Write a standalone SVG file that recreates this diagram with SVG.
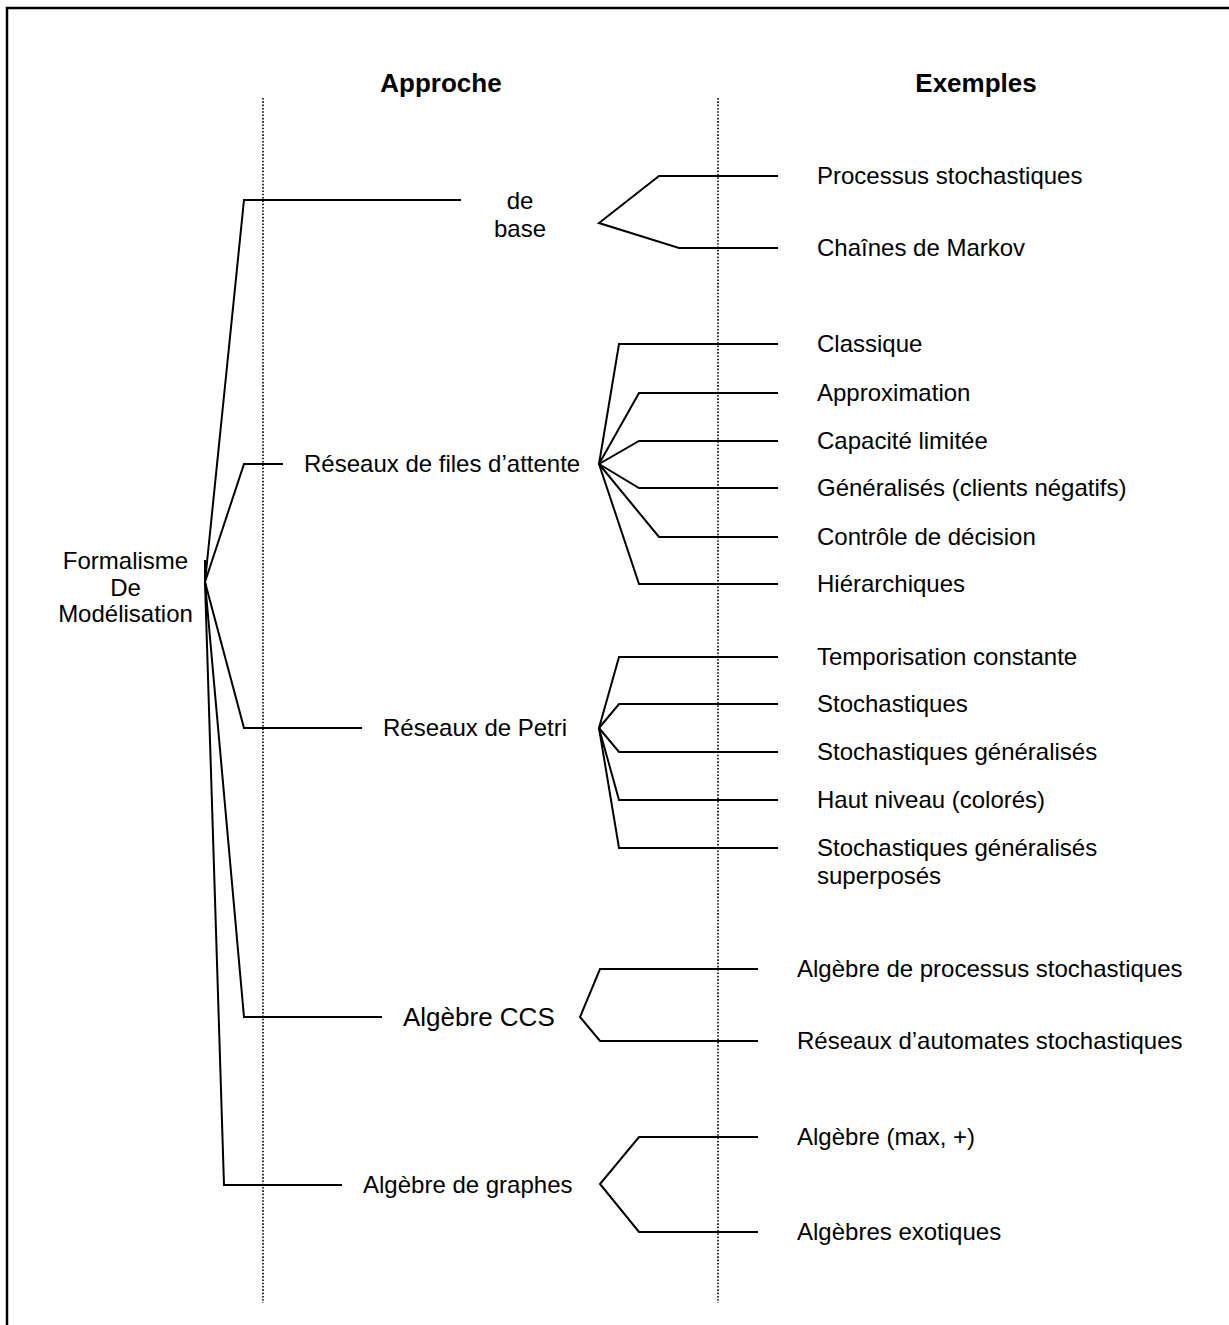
<svg xmlns="http://www.w3.org/2000/svg" width="1229" height="1325" viewBox="0 0 1229 1325">
<style>
text{font-family:"Liberation Sans",Arial,sans-serif;font-size:24px;fill:#000}
.h{font-weight:bold;font-size:26px}
.big{font-size:26px}
.c{text-anchor:middle}
.ln{fill:none;stroke:#000;stroke-width:2;stroke-linejoin:miter}
.dot{fill:none;stroke:#000;stroke-width:1.6;stroke-dasharray:1.6 1.7}
.frame{fill:none;stroke:#000;stroke-width:2.5}
</style>
<rect width="1229" height="1325" fill="#fff"/>
<path class="frame" d="M7,1325 V8 H1229"/>
<g id="headers">
<text class="h" x="441" y="92" text-anchor="middle">Approche</text>
<text class="h" x="976" y="92" text-anchor="middle">Exemples</text>
</g>
<g id="guides">
<line class="dot" x1="263" y1="98" x2="263" y2="1303"/>
<line class="dot" x1="718" y1="98" x2="718" y2="1303"/>
</g>
<g id="connectors">
<path class="ln" d="M205,560 V582"/>
<path class="ln" d="M461,200 H244 L205,582"/>
<path class="ln" d="M283,464 H244 L205,582"/>
<path class="ln" d="M362,728 H244 L205,582"/>
<path class="ln" d="M382,1017 H244 L205,582"/>
<path class="ln" d="M342,1185 H224 L205,582"/>
<path class="ln" d="M778,176 H659 L599,223 L679,248 H778"/>
<path class="ln" d="M778,344 H619 L599,464"/>
<path class="ln" d="M778,393 H639 L599,464"/>
<path class="ln" d="M778,441 H639 L599,464"/>
<path class="ln" d="M778,488 H639 L599,464"/>
<path class="ln" d="M778,537 H659 L599,464"/>
<path class="ln" d="M778,584 H639 L599,464"/>
<path class="ln" d="M778,657 H619 L599,728"/>
<path class="ln" d="M778,704 H619 L599,728"/>
<path class="ln" d="M778,752 H619 L599,728"/>
<path class="ln" d="M778,800 H619 L599,728"/>
<path class="ln" d="M778,848 H619 L599,728"/>
<path class="ln" d="M758,969 H600 L580,1017 L600,1041 H758"/>
<path class="ln" d="M758,1137 H639 L600,1184 L639,1232 H758"/>
</g>
<g id="root">
<text class="c" x="125.5" y="569">Formalisme</text>
<text class="c" x="125.5" y="596">De</text>
<text class="c" x="125.5" y="622">Modélisation</text>
</g>
<g id="n-base">
<text class="c" x="520" y="209">de</text>
<text class="c" x="520" y="237">base</text>
</g>
<g id="n-files"><text x="304" y="472">Réseaux de files d’attente</text></g>
<g id="n-petri"><text x="383" y="736">Réseaux de Petri</text></g>
<g id="n-ccs"><text class="big" x="403" y="1026">Algèbre CCS</text></g>
<g id="n-graphes"><text x="363" y="1193">Algèbre de graphes</text></g>
<g id="e-base">
<text x="817" y="184">Processus stochastiques</text>
<text x="817" y="256">Chaînes de Markov</text>
</g>
<g id="e-files">
<text x="817" y="352">Classique</text>
<text x="817" y="401">Approximation</text>
<text x="817" y="449">Capacité limitée</text>
<text x="817" y="496">Généralisés (clients négatifs)</text>
<text x="817" y="545">Contrôle de décision</text>
<text x="817" y="592">Hiérarchiques</text>
</g>
<g id="e-petri">
<text x="817" y="665">Temporisation constante</text>
<text x="817" y="712">Stochastiques</text>
<text x="817" y="760">Stochastiques généralisés</text>
<text x="817" y="808">Haut niveau (colorés)</text>
<text x="817" y="856">Stochastiques généralisés</text>
<text x="817" y="884">superposés</text>
</g>
<g id="e-ccs">
<text x="797" y="977">Algèbre de processus stochastiques</text>
<text x="797" y="1049">Réseaux d’automates stochastiques</text>
</g>
<g id="e-graphes">
<text x="797" y="1145">Algèbre (max, +)</text>
<text x="797" y="1240">Algèbres exotiques</text>
</g>
</svg>
